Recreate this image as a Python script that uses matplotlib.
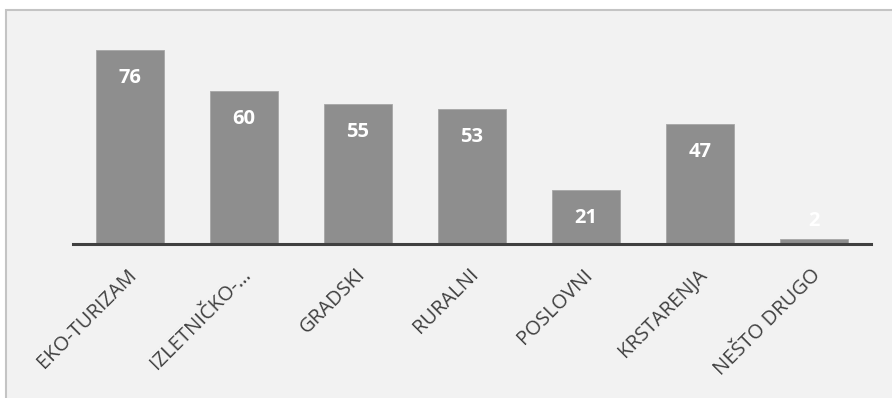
import matplotlib
matplotlib.use('Agg')
import matplotlib.pyplot as plt
import matplotlib.transforms as mtransforms
from matplotlib.patches import Rectangle

plt.rcParams['font.family'] = ['Open Sans', 'DejaVu Sans']

categories = ['EKO-TURIZAM', 'IZLETNIČKO-…', 'GRADSKI', 'RURALNI',
              'POSLOVNI', 'KRSTARENJA', 'NEŠTO DRUGO']
values = [76, 60, 55, 53, 21, 47, 2]

BAR_COLOR = '#8e8e8e'
TEXT_COLOR = '#404040'

fig = plt.figure(figsize=(8.92, 3.98), dpi=100)
fig.patch.set_facecolor('white')

# chart area background with border on top/left (right/bottom are cut off)
bg = Rectangle((6 / 892, -0.1), 1.0, (398 - 10) / 398 + 0.1,
               transform=fig.transFigure, facecolor='#f2f2f2',
               edgecolor='#c4c4c4', linewidth=1.5, zorder=-1)
fig.patches.append(bg)

ax = fig.add_axes([73 / 892, (398 - 244) / 398, (871 - 73) / 892, (244 - 30) / 398])
ax.set_zorder(2)
ax.set_facecolor('none')

x = range(len(categories))
bars = ax.bar(x, values, width=0.605, color=BAR_COLOR,
              edgecolor='#a6a6a6', linewidth=0.6, zorder=2)

ax.set_xlim(-0.5, len(categories) - 0.5)
ax.set_ylim(0, 83.8)

for sp in ['top', 'right', 'left']:
    ax.spines[sp].set_visible(False)
ax.spines['bottom'].set_color(TEXT_COLOR)
ax.spines['bottom'].set_linewidth(2.2)
ax.spines['bottom'].set_zorder(3)

ax.set_yticks([])
ax.set_xticks(list(x))
ax.set_xticklabels(categories, rotation=45, ha='right', va='center',
                   rotation_mode='anchor', fontsize=14.5, color=TEXT_COLOR)
ax.tick_params(axis='x', length=0, pad=20)
shift = mtransforms.ScaledTranslation(4 / 100, 0, fig.dpi_scale_trans)
for lbl in ax.get_xticklabels():
    lbl.set_transform(lbl.get_transform() + shift)

# value labels inside the top of each bar
for i, v in enumerate(values):
    ax.text(i, max(v - 11, 9.2), str(v), ha='center', va='center',
            color='white', fontsize=14.5, fontweight='bold', zorder=4)

plt.savefig('out.png', dpi=100)
